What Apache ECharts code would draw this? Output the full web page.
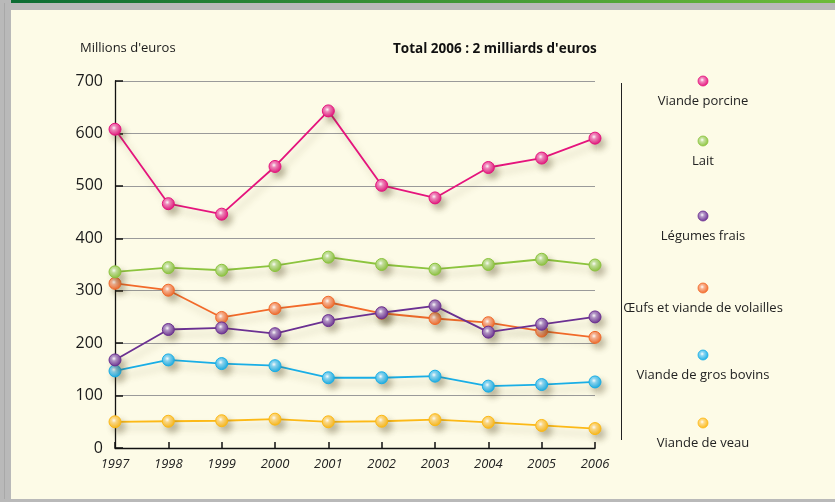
<!DOCTYPE html>
<html>
<head>
<meta charset="utf-8">
<script src="https://cdn.jsdelivr.net/npm/echarts@6/dist/echarts.min.js"></script>
<style>
html,body{margin:0;padding:0;background:#fdfbe7;}
#chart{width:835px;height:502px;}
</style>
</head>
<body>
<div id="chart"></div>
<script>
const years = ['1997','1998','1999','2000','2001','2002','2003','2004','2005','2006'];
const viandePorcine = [608, 466, 446, 537, 643, 501, 477, 535, 553, 591];
const lait = [336, 344, 339, 348, 364, 350, 341, 350, 360, 349];
const legumesFrais = [168, 226, 229, 218, 243, 258, 271, 221, 236, 250];
const oeufsVolailles = [314, 301, 249, 266, 278, 257, 247, 239, 223, 211];
const grosBovins = [147, 168, 161, 157, 134, 134, 137, 118, 121, 126];
const viandeVeau = [50, 51, 52, 55, 50, 51, 54, 49, 43, 37];
const yTicks = [0, 100, 200, 300, 400, 500, 600, 700];

const seriesNames = ['Viande porcine', 'Lait', 'Légumes frais', 'Œufs et viande de volailles', 'Viande de gros bovins', 'Viande de veau'];
const seriesData = [viandePorcine, lait, legumesFrais, oeufsVolailles, grosBovins, viandeVeau];
const seriesColors = ['#e5147d', '#8cc43e', '#6b3092', '#f26a2a', '#19aee6', '#fcb917'];
const legendY = [81, 141, 216, 288, 355, 423];

function ball(c) {
  return {
    type: 'radial', x: 0.42, y: 0.4, r: 0.6,
    colorStops: [
      {offset: 0, color: '#ffffff'},
      {offset: 0.3, color: echarts.color.lerp(0.5, ['#ffffff', c])},
      {offset: 1, color: c}
    ]
  };
}

const chart = echarts.init(document.getElementById('chart'), null, {renderer: 'canvas'});

const series = seriesNames.map((n, i) => ({
  name: n,
  type: 'line',
  data: seriesData[i],
  symbol: 'circle',
  symbolSize: 12,
  z: 10 - i,
  lineStyle: {
    color: seriesColors[i], width: 1.8,
    shadowColor: 'rgba(90,80,30,0.28)', shadowBlur: 7, shadowOffsetX: 4, shadowOffsetY: 6
  },
  itemStyle: {
    color: ball(seriesColors[i]),
    borderColor: seriesColors[i], borderWidth: 1,
    shadowColor: 'rgba(80,70,30,0.35)', shadowBlur: 6, shadowOffsetX: 4, shadowOffsetY: 5
  },
  emphasis: {disabled: true},
  animation: false
}));

const graphics = [
  {type: 'rect', left: 0, top: 0, shape: {width: 835, height: 10}, style: {fill: '#b9b9b9'}, silent: true},
  {type: 'rect', left: 0, top: 0, shape: {width: 835, height: 3},
   style: {fill: {type: 'linear', x: 0, y: 0, x2: 1, y2: 0, colorStops: [{offset: 0, color: '#0b6b33'}, {offset: 1, color: '#6dbb3a'}]}}, silent: true},
  {type: 'rect', left: 0, top: 0, shape: {width: 11, height: 502}, style: {fill: '#b9b9b9'}, silent: true},
  {type: 'rect', left: 4, top: 3, shape: {width: 1, height: 499}, style: {fill: '#a8a8a8'}, silent: true},
  {type: 'rect', left: 0, top: 499, shape: {width: 835, height: 3}, style: {fill: '#b9b9b9'}, silent: true},
  {type: 'text', left: 80, top: 42, style: {text: "Millions d'euros", font: '13px "Open Sans"', fill: '#1a1a1a'}},
  {type: 'text', left: 393, top: 42, style: {text: "Total 2006 : 2 milliards d'euros", font: 'bold 13.5px "Open Sans"', fill: '#111'}},
  {type: 'line', shape: {x1: 621.5, y1: 83, x2: 621.5, y2: 440}, style: {stroke: '#222', lineWidth: 1}}
];
seriesNames.forEach((n, i) => {
  graphics.push({type: 'circle', shape: {cx: 703, cy: legendY[i], r: 5},
    style: {fill: ball(seriesColors[i]), stroke: seriesColors[i], lineWidth: 0.8}});
  graphics.push({type: 'text', x: 703, y: legendY[i] + 20,
    style: {text: n, font: '13px "Open Sans"', fill: '#222', align: 'center', verticalAlign: 'middle'}});
});

chart.setOption({
  backgroundColor: '#fdfbe7',
  animation: false,
  grid: {left: 115, right: 240, top: 81, bottom: 54},
  xAxis: {
    type: 'category', data: years, boundaryGap: false,
    axisLine: {lineStyle: {color: '#111', width: 1.3}},
    axisTick: {inside: true, length: 6, alignWithLabel: true, lineStyle: {color: '#111', width: 1.5}},
    axisLabel: {fontStyle: 'italic', fontSize: 13, color: '#222', margin: 10, fontFamily: 'Open Sans'},
    splitLine: {show: false}
  },
  yAxis: {
    type: 'value', min: yTicks[0], max: yTicks[yTicks.length - 1], interval: 100,
    axisLine: {show: true, lineStyle: {color: '#111', width: 1.3}},
    axisTick: {show: true, inside: true, length: 8, lineStyle: {color: '#111', width: 1.5}},
    axisLabel: {fontSize: 16, color: '#1a1a1a', margin: 12, fontFamily: 'Open Sans'},
    splitLine: {lineStyle: {color: '#9a9a9a', width: 1}}
  },
  graphic: graphics,
  series: series
});
</script>
</body>
</html>
